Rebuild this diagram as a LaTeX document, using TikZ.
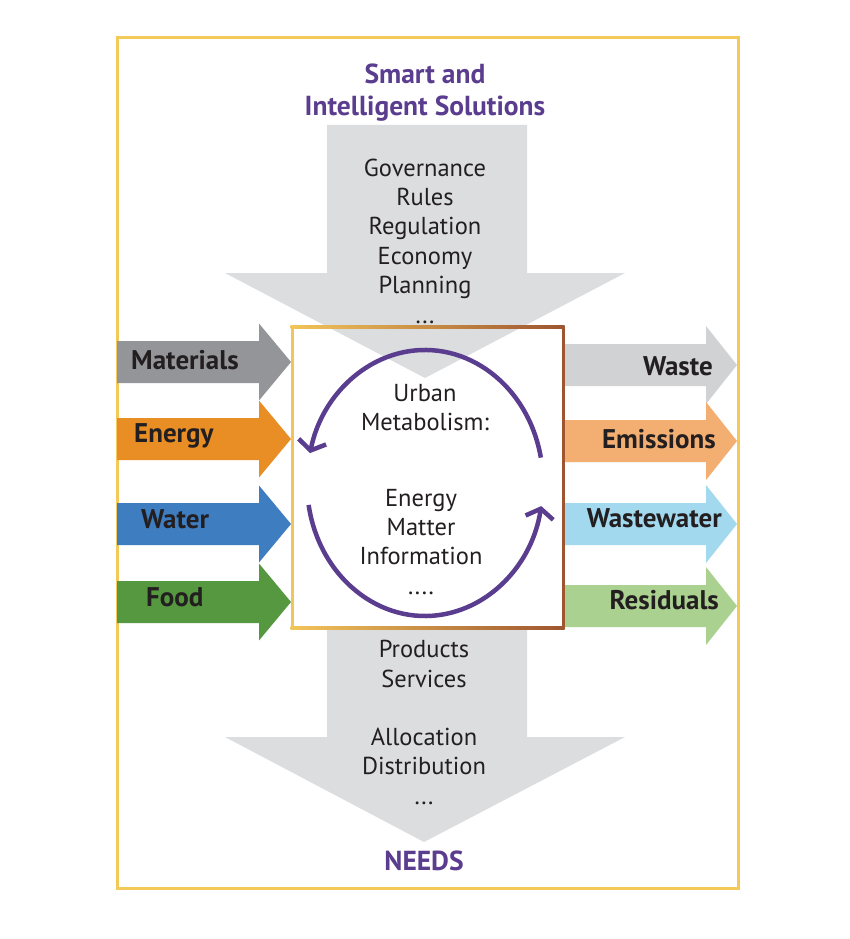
\documentclass[tikz,border=0pt]{standalone}
\usepackage{fontspec}
\setmainfont{PT Sans}
\usepackage{tikz}
\usetikzlibrary{arrows.meta}

\definecolor{framegold}{HTML}{F3C95A}
\definecolor{flowgray}{HTML}{DCDDDF}
\definecolor{ink}{HTML}{231F20}
\definecolor{umpurple}{HTML}{5B3D8F}
\definecolor{boxyellow}{HTML}{F2C55A}
\definecolor{boxorange}{HTML}{D4923E}
\definecolor{boxbrown}{HTML}{9E5530}
\definecolor{matgray}{HTML}{939598}
\definecolor{enorange}{HTML}{E98E24}
\definecolor{watblue}{HTML}{3F7DC1}
\definecolor{foodgreen}{HTML}{55983F}
\definecolor{wastegray}{HTML}{D1D2D4}
\definecolor{emisorange}{HTML}{F3AF72}
\definecolor{wwblue}{HTML}{A3D9EE}
\definecolor{resgreen}{HTML}{AAD18F}

\tikzset{
	txt/.style={font=\fontsize{24.5}{29}\selectfont, text=ink, inner sep=0pt},
	lbl/.style={font=\bfseries\fontsize{27}{30}\selectfont, text=ink, inner sep=0pt},
	ttl/.style={font=\bfseries\fontsize{27.5}{32}\selectfont, text=umpurple, inner sep=0pt},
	cycle arc/.style={line width=4.5pt, umpurple, -{Straight Barb[length=9pt,width=28pt,line width=4.5pt]}}
}

\begin{document}
\begin{tikzpicture}[x=1pt,y=-1pt]
		\useasboundingbox (0,0) rectangle (849,939);
		\fill[white] (0,0) rectangle (849,939);
		
		% frame
		\draw[line width=3pt, framegold] (117,38) rectangle (738,888);
		
		% vertical flows
		\fill[flowgray] (327,125) -- (527,125) -- (527,273) -- (625,273) -- (425,378) -- (225,273) -- (327,273) -- cycle;
		\fill[flowgray] (327,628) -- (527,628) -- (527,737) -- (625,737) -- (424,842) -- (225,737) -- (327,737) -- cycle;
		
		% box
		\draw[line width=3pt, boxyellow] (292,327) -- (292,628);
		\draw[line width=3pt, boxbrown] (563,327) -- (563,628);
		\shade[left color=boxyellow, middle color=boxorange, right color=boxbrown] (290.5,325.5) rectangle (564.5,328.5);
		\shade[left color=boxyellow, middle color=boxorange, right color=boxbrown] (290.5,626.5) rectangle (564.5,629.5);
		
		% inputs
		\foreach \yc/\col/\lab/\lx/\bl in {362/matgray/Materials/131/369, 439/enorange/Energy/134/442, 524/watblue/Water/141/528, 602/foodgreen/Food/146/606}{
			\fill[\col] (117,{\yc-21}) -- (259,{\yc-21}) -- (259,{\yc-38.5}) -- (291,\yc) -- (259,{\yc+38.5}) -- (259,{\yc+21}) -- (117,{\yc+21}) -- cycle;
			\node[lbl, anchor=base west] (in-\lab) at (\lx,\bl) {\lab};
		}
		
		% outputs
		\foreach \yc/\col/\lab/\rx/\bl in {365/wastegray/Waste/713/375, 441/emisorange/Emissions/716/448, 524/wwblue/Wastewater/722/527, 606/resgreen/Residuals/719/609}{
			\fill[\col] (565,{\yc-21}) -- (706,{\yc-21}) -- (706,{\yc-39}) -- (737,\yc) -- (706,{\yc+39}) -- (706,{\yc+21}) -- (565,{\yc+21}) -- cycle;
			\node[lbl, anchor=base east] (out-\lab) at (\rx,\bl) {\lab};
		}
		
		% cycle
		\coordinate (um) at (425,483);
		\draw[cycle arc] (um) ++(-11:118 and 133) arc[start angle=-11, end angle=-167, x radius=118, y radius=133];
		\draw[cycle arc] (um) ++(170.5:118 and 133) arc[start angle=170.5, end angle=10, x radius=118, y radius=133];
		
		% texts
		\node[ttl, anchor=base] (smart) at (425,84) {Smart and};
		\node[ttl, anchor=base] (intel) at (425,116) {Intelligent Solutions};
		
		\foreach \txt [count=\i] in {Governance,Rules,Regulation,Economy,Planning}{
			\node[txt, anchor=base] (gov\i) at (425,{176+29.4*(\i-1)}) {\txt};
		}
		\node[txt, anchor=base] (gov6) at (425,323) {...};
		
		\node[txt, anchor=base] (urban) at (425,401) {Urban};
		\node[txt, anchor=base] (metab) at (425,430) {Metabolism:};
		\foreach \txt [count=\i] in {Energy,Matter,Information}{
			\node[txt, anchor=base] (flow\i) at (421,{506+29.3*(\i-1)}) {\txt};
		}
		\node[txt, anchor=base] (flow4) at (421,594) {....};
		
		\node[txt, anchor=base] (prod) at (424,657) {Products};
		\node[txt, anchor=base] (serv) at (424,687) {Services};
		\node[txt, anchor=base] (alloc) at (424,745) {Allocation};
		\node[txt, anchor=base] (distr) at (424,774) {Distribution};
		\node[txt, anchor=base] (dots) at (424,804) {...};
		
		\node[ttl, anchor=base] (needs) at (424,870) {NEEDS};
	\end{tikzpicture}
\end{document}
